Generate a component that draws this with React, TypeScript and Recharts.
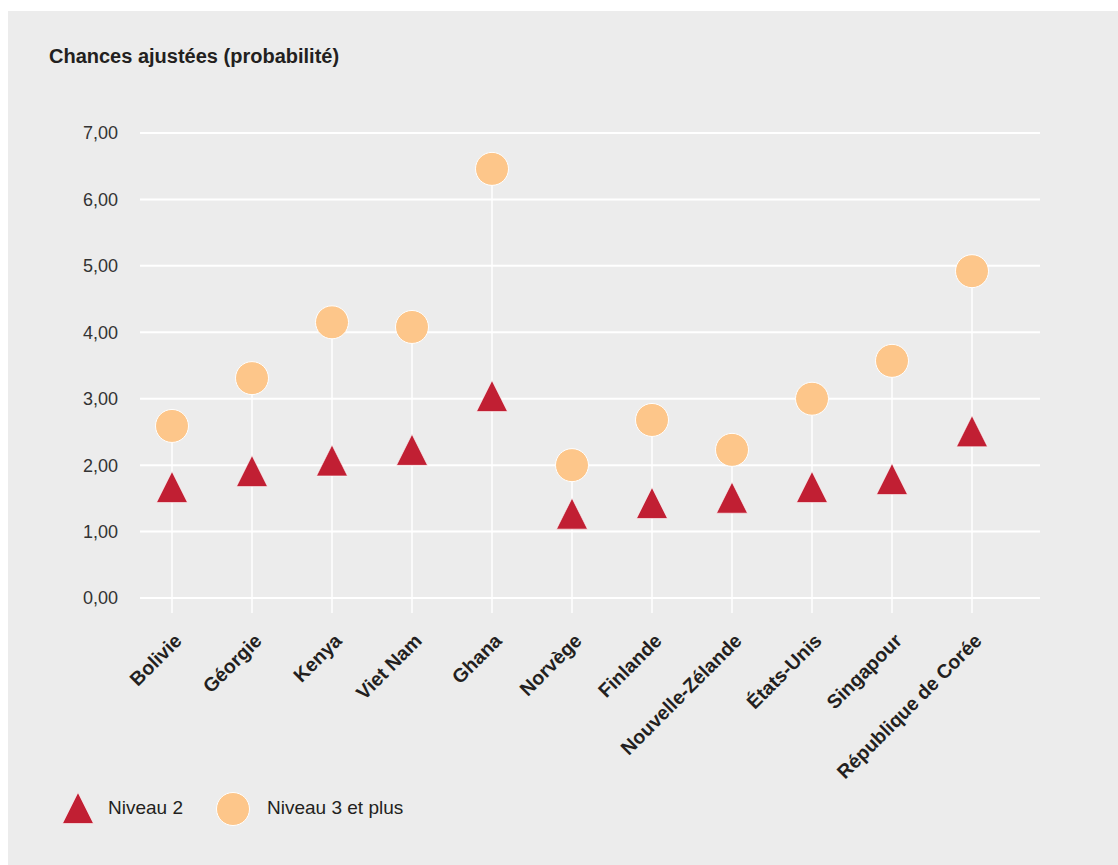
import { ComposedChart, Scatter, XAxis, YAxis, CartesianGrid, ErrorBar } from 'recharts';

const countries = [
  'Bolivie',
  'Géorgie',
  'Kenya',
  'Viet Nam',
  'Ghana',
  'Norvège',
  'Finlande',
  'Nouvelle-Zélande',
  'États-Unis',
  'Singapour',
  'République de Corée',
];
const niveau2 = [1.67, 1.91, 2.07, 2.23, 3.04, 1.27, 1.43, 1.51, 1.67, 1.79, 2.51];
const niveau3 = [2.59, 3.31, 4.15, 4.08, 6.46, 2.0, 2.68, 2.23, 3.0, 3.57, 4.92];
const yTicks = [0, 1, 2, 3, 4, 5, 6, 7];
const seriesNames = ['Niveau 2', 'Niveau 3 et plus'];
const title = 'Chances ajustées (probabilité)';

const RED = '#c11f33';
const ORANGE = '#fdc68a';
const BG = '#ececec';
const TEXT = '#231f20';
const FONT = '"Liberation Sans", Arial, sans-serif';
const TRI = 31;

// stems start a little under the 0 gridline, like in the print version
const FLOOR = -0.226;

const rows = countries.map((country, i) => ({
  idx: i,
  country,
  n2: niveau2[i],
  n3: niveau3[i],
  stem: [niveau3[i] - FLOOR, 0],
}));

const fmt = (v: number) => v.toFixed(2).replace('.', ',');

function Triangle({ cx, cy }: any) {
  const h = TRI / 2;
  return (
    <polygon
      points={`${cx},${cy - h} ${cx - h},${cy + h} ${cx + h},${cy + h}`}
      fill={RED}
      stroke="#ffffff"
      strokeWidth={0.6}
    />
  );
}

function Dot({ cx, cy }: any) {
  return <circle cx={cx} cy={cy} r={16.5} fill={ORANGE} stroke="#ffffff" strokeWidth={1} />;
}

function CountryTick({ x, y, payload }: any) {
  const tx = x + 11;
  const ty = y + 29;
  return (
    <text
      x={tx}
      y={ty}
      textAnchor="end"
      transform={`rotate(-45, ${tx}, ${ty})`}
      fontFamily={FONT}
      fontWeight="bold"
      fontSize={19.5}
      fill={TEXT}
    >
      {countries[payload.value]}
    </text>
  );
}

export default function App() {
  return (
    <div style={{ position: 'fixed', left: 8, top: 11, right: 0, bottom: 0, background: BG, fontFamily: FONT }}>
      <div
        style={{
          position: 'absolute',
          left: 41,
          top: 35,
          fontSize: 20,
          lineHeight: '20px',
          fontWeight: 'bold',
          color: TEXT,
          whiteSpace: 'nowrap',
        }}
      >
        {title}
      </div>

      <ComposedChart width={1110} height={854} data={rows} margin={{ top: 122, right: 78, bottom: 0, left: 0 }}>
        <CartesianGrid vertical={false} horizontalValues={yTicks} stroke="#ffffff" strokeWidth={2} />
        <XAxis
          dataKey="idx"
          type="number"
          domain={[-0.4, 10.85]}
          ticks={countries.map((_, i) => i)}
          interval={0}
          axisLine={false}
          tickLine={false}
          tickSize={0}
          tickMargin={0}
          height={252}
          tick={<CountryTick />}
        />
        <YAxis
          type="number"
          domain={[FLOOR, 7]}
          ticks={yTicks}
          allowDataOverflow
          axisLine={false}
          tickLine={false}
          tickSize={0}
          tickMargin={22}
          width={132}
          tickFormatter={fmt}
          tick={{ fontSize: 18, fill: '#333333', fontFamily: FONT }}
        />
        <Scatter dataKey="n3" shape={() => <g />} isAnimationActive={false} legendType="none">
          <ErrorBar dataKey="stem" direction="y" width={0} stroke="#ffffff" strokeWidth={1.5} />
        </Scatter>
        <Scatter name={seriesNames[1]} dataKey="n3" shape={<Dot />} isAnimationActive={false} />
        <Scatter name={seriesNames[0]} dataKey="n2" shape={<Triangle />} isAnimationActive={false} />
      </ComposedChart>

      <svg style={{ position: 'absolute', left: 54, top: 781 }} width={32} height={32}>
        <Triangle cx={16} cy={16} />
      </svg>
      <div style={{ position: 'absolute', left: 100, top: 786, fontSize: 19, lineHeight: '22px', color: TEXT }}>
        {seriesNames[0]}
      </div>
      <svg style={{ position: 'absolute', left: 207, top: 780 }} width={36} height={36}>
        <Dot cx={18} cy={18} />
      </svg>
      <div style={{ position: 'absolute', left: 259, top: 786, fontSize: 19, lineHeight: '22px', color: TEXT }}>
        {seriesNames[1]}
      </div>
    </div>
  );
}
